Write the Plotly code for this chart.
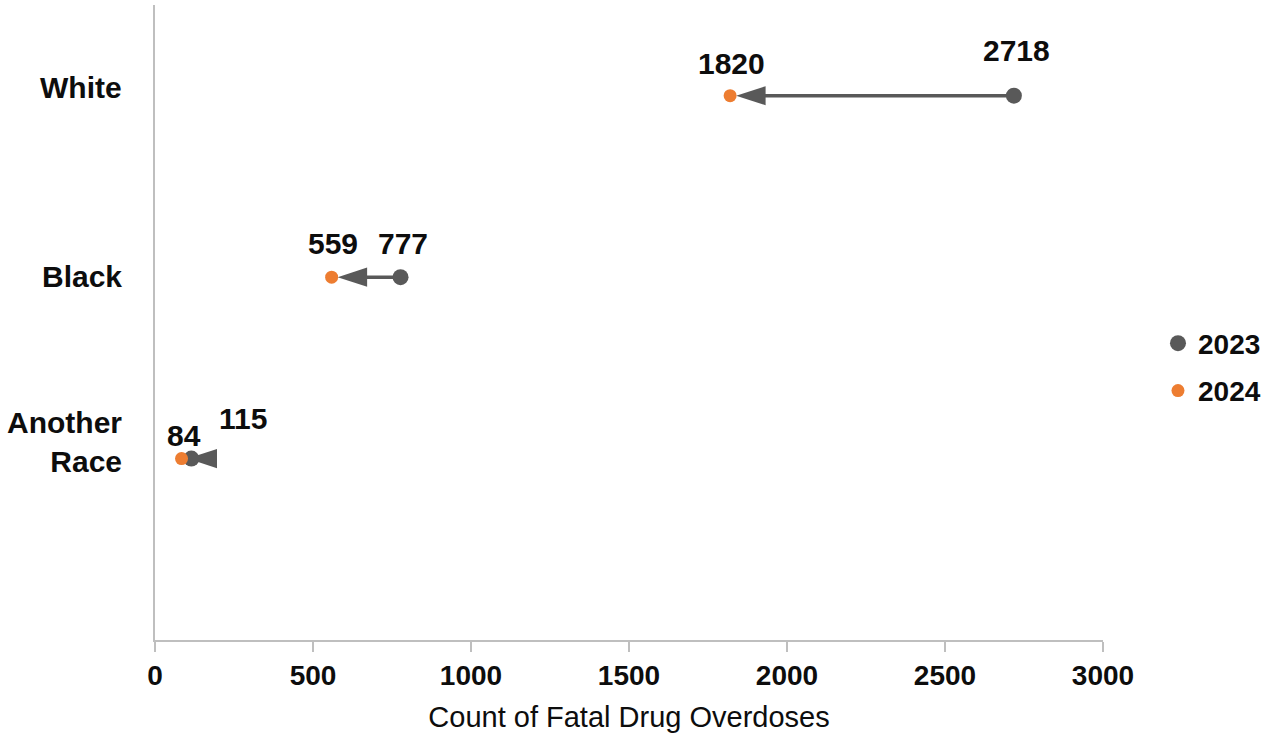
import plotly.graph_objects as go

categories = ["White", "Black", "Another<br>Race"]
cat_pos = [3, 2, 1]
values_2023 = [2718, 777, 115]
values_2024 = [1820, 559, 84]
x_ticks = [0, 500, 1000, 1500, 2000, 2500, 3000]

GREY = "#595959"
ORANGE = "#ED7D31"
TXT = "#0d0d0d"
FONT = "Liberation Sans, Arial, sans-serif"

# label pixel offsets (style)
off_2023 = [(3, 45), (2, 34), (52, 40)]
off_2024 = [(1, 32), (1, 34), (2, 23)]
# category label vertical nudges (style)
cat_shift = [8, 1, 17]

fig = go.Figure()

# change arrows: line from 2023 to 2024 with an arrowhead marker at the 2024 end
for i in range(len(categories)):
    fig.add_trace(go.Scatter(
        x=[values_2023[i], values_2024[i]], y=[cat_pos[i], cat_pos[i]],
        mode="lines+markers", showlegend=False, hoverinfo="skip",
        line=dict(color=GREY, width=3.5),
        marker=dict(symbol=["circle", "arrow"], size=[0, 31], color=GREY,
                    opacity=1, angleref="previous", standoff=[0, 6],
                    line=dict(width=0)),
        cliponaxis=False))

fig.add_trace(go.Scatter(
    x=values_2023, y=cat_pos, mode="markers", name="2023", legendgroup="a",
    marker=dict(color=GREY, size=16), cliponaxis=False))
fig.add_trace(go.Scatter(
    x=values_2024, y=cat_pos, mode="markers", name="2024", legendgroup="b",
    marker=dict(color=ORANGE, size=13), cliponaxis=False))

for i in range(len(categories)):
    fig.add_annotation(
        x=values_2023[i], y=cat_pos[i], text=str(values_2023[i]),
        showarrow=False, xshift=off_2023[i][0], yshift=off_2023[i][1],
        font=dict(family=FONT, size=30, color=TXT, weight="bold"))
    fig.add_annotation(
        x=values_2024[i], y=cat_pos[i], text=str(values_2024[i]),
        showarrow=False, xshift=off_2024[i][0], yshift=off_2024[i][1],
        font=dict(family=FONT, size=30, color=TXT, weight="bold"))
    fig.add_annotation(
        x=-0.033, xref="paper", xanchor="right", y=cat_pos[i], yref="y",
        yshift=cat_shift[i], text=categories[i], showarrow=False, align="right",
        font=dict(family=FONT, size=30, color=TXT, weight="bold"))

fig.update_layout(
    width=1268, height=735,
    margin=dict(l=155, r=165, t=5, b=95, autoexpand=False),
    plot_bgcolor="white", paper_bgcolor="white",
    font=dict(family=FONT, size=28, color=TXT),
    showlegend=True,
    legend=dict(x=1.058, y=0.43, xanchor="left", yanchor="middle",
                font=dict(family=FONT, size=28, color=TXT, weight="bold"),
                itemsizing="trace", tracegroupgap=8, itemwidth=30,
                bgcolor="rgba(0,0,0,0)"),
    xaxis=dict(range=[0, 3000], tickvals=x_ticks, ticks="outside", ticklen=10,
               tickcolor="#BFBFBF", tickwidth=1.5, showline=True, linecolor="#BFBFBF",
               linewidth=1.5, showgrid=False, zeroline=False, automargin=False,
               tickfont=dict(family=FONT, size=28, color=TXT, weight="bold"),
               title=dict(text="Count of Fatal Drug Overdoses", standoff=16,
                          font=dict(family=FONT, size=29, color=TXT))),
    yaxis=dict(range=[0, 3.5], tickvals=cat_pos, showticklabels=False,
               showline=True, linecolor="#BFBFBF", linewidth=1.5, automargin=False,
               showgrid=False, zeroline=False, ticks=""),
)

fig.write_html("out.html", config={"displayModeBar": False},
               post_script="document.body.style.margin='0px';")
